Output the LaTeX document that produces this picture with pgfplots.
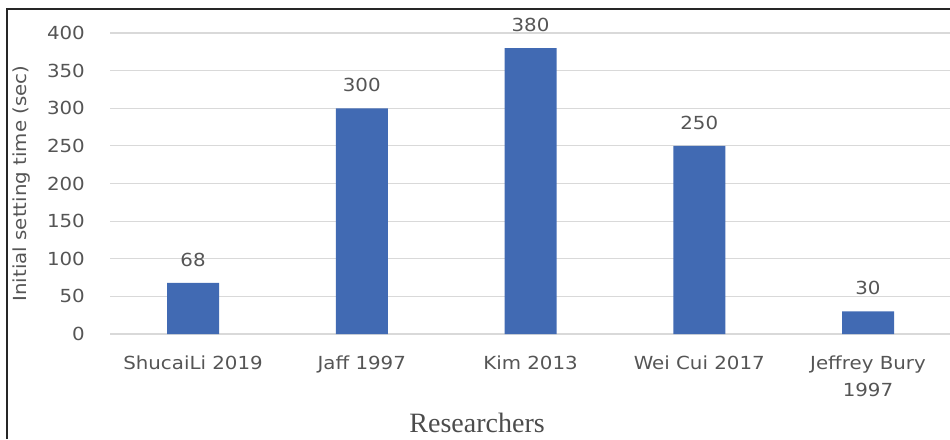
\documentclass[border=0pt]{standalone}
\usepackage{pgfplots}
\pgfplotsset{compat=1.18}
\usepackage{fontspec}
\setmainfont[FakeStretch=1.1]{DejaVu Sans}
\newfontfamily\seriffont{Liberation Serif}
\definecolor{barblue}{HTML}{416AB3}
\definecolor{txtgray}{HTML}{555555}
\definecolor{gridgray}{HTML}{D9D9D9}
\begin{document}
\begin{tikzpicture}[x=1pt,y=1pt]
\path[use as bounding box] (0,0) rectangle (950,439);
\begin{axis}[
  at={(110pt,105pt)}, anchor=south west,
  scale only axis, width=840pt, height=301pt,
  xmin=-0.492, xmax=4.486, ymin=0, ymax=400,
  ytick={0,50,...,400},
  xtick={0,1,2,3,4},
  xticklabels={ShucaiLi 2019, Jaff 1997, Kim 2013, Wei Cui 2017, {Jeffrey Bury\\1997}},
  axis line style={draw=none},
  major tick length=0pt,
  ymajorgrids, grid style={gridgray, line width=1.2pt},
  /pgf/number format/assume math mode=true,
  tick label style={font=\fontsize{18}{27}\selectfont, text=txtgray},
  xticklabel style={align=center, anchor=north, inner sep=0pt, yshift=-22pt},
  yticklabel style={anchor=east, inner sep=0pt, xshift=-25pt},
  ylabel={Initial setting time (sec)},
  ylabel style={at={(axis description cs:-0.1048,0.5)}, anchor=center, font=\fontsize{18}{22}\selectfont, text=txtgray},
  xlabel={Researchers},
  xlabel style={at={(axis description cs:0.437,-0.2957)}, anchor=center, font=\seriffont\fontsize{28}{31}\selectfont, text=black!70},
  ybar, bar width=52pt,
  nodes near coords,
  every node near coord/.append style={font=\fontsize{18}{22}\selectfont, text=txtgray, anchor=base, inner sep=0pt, yshift=16.5pt},
]
\addplot[fill=barblue, draw=none] coordinates {(0,68) (1,300) (2,380) (3,250) (4,30)};
\end{axis}
\draw[line width=2pt, black!85] (7,0) -- (7,430) -- (950,430);
\end{tikzpicture}
\end{document}
